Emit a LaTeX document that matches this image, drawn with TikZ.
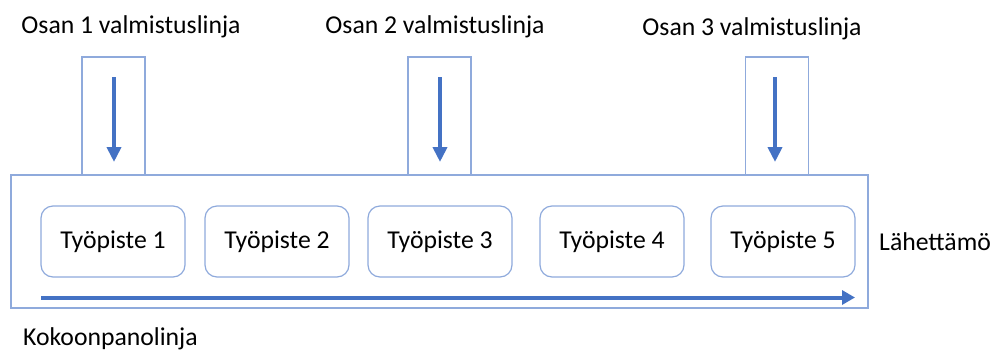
\documentclass[tikz,border=0pt]{standalone}
\usepackage{fontspec}
\setmainfont{Carlito}
\usetikzlibrary{arrows.meta}
\definecolor{boxblue}{HTML}{8FAADC}
\definecolor{arrblue}{HTML}{4472C4}
\tikzset{
  stn/.style={draw=boxblue, line width=1.2pt, rounded corners=12pt, minimum width=144pt, minimum height=71pt, inner sep=0pt, font=\fontsize{25.7}{30}\selectfont, fill=white},
  feedbox/.style={draw=boxblue, line width=1.2pt, minimum width=63pt, minimum height=118pt, inner sep=0pt},
  mainbox/.style={draw=boxblue, line width=1.2pt, minimum width=857pt, minimum height=133pt, inner sep=0pt},
  lbl/.style={inner sep=0pt, font=\fontsize{25.7}{30}\selectfont},
  flow/.style={draw=arrblue, line width=4pt, -{Triangle[width=14pt,length=15pt]}},
}
\begin{document}
\begin{tikzpicture}[x=1pt,y=-1pt]
\useasboundingbox (0,0) rectangle (992,351);
\node[feedbox] (f1) at (113.5,116) {};
\node[feedbox] (f2) at (439.5,116) {};
\node[feedbox] (f3) at (777,116) {};
\node[mainbox] (main) at (439.5,241.5) {};
\node[stn] (w1) at (113,241.5) {Työpiste 1};
\node[stn] (w2) at (277,241.5) {Työpiste 2};
\node[stn] (w3) at (440,241.5) {Työpiste 3};
\node[stn] (w4) at (612,241.5) {Työpiste 4};
\node[stn] (w5) at (783,241.5) {Työpiste 5};
\node[lbl, anchor=base] (l1) at (131,33) {Osan 1 valmistuslinja};
\node[lbl, anchor=base] (l2) at (435,33) {Osan 2 valmistuslinja};
\node[lbl, anchor=base] (l3) at (752,35) {Osan 3 valmistuslinja};
\node[lbl, anchor=base west] (ship) at (879,250) {Lähettämö};
\node[lbl, anchor=base west] (asm) at (23,345) {Kokoonpanolinja};
\coordinate (s1) at (114,77); \coordinate (e1) at (114,162);
\coordinate (s2) at (440,77); \coordinate (e2) at (440,162);
\coordinate (s3) at (775,77); \coordinate (e3) at (775,162);
\coordinate (h0) at (41,297.5); \coordinate (h1) at (855,297.5);
\draw[flow] (s1) -- (e1);
\draw[flow] (s2) -- (e2);
\draw[flow] (s3) -- (e3);
\draw[flow, -{Triangle[width=14pt,length=13pt]}] (h0) -- (h1);
\end{tikzpicture}
\end{document}
